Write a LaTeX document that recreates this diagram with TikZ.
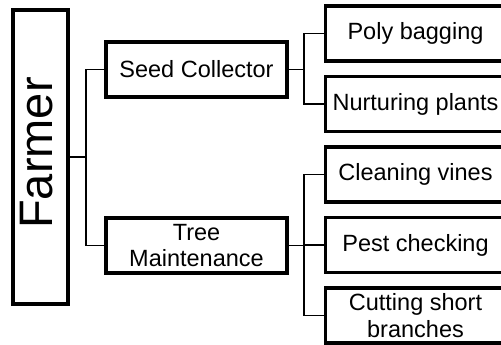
\documentclass[tikz,border=0pt]{standalone}
\usepackage{fontspec}
\setmainfont{Liberation Sans}
\begin{document}
\begin{tikzpicture}[x=1pt,y=-1pt,
  box/.style={draw, line width=3.1pt, inner sep=0pt, align=center,
    font=\fontsize{23.5}{26.5}\selectfont},
  rolebox/.style={box, minimum width=181pt, minimum height=55pt},
  taskbox/.style={box, minimum width=180pt, minimum height=55pt},
  link/.style={line width=1.9pt, line cap=rect}]
\useasboundingbox (0,0) rectangle (501,345);
\clip (0,0) rectangle (501,345);

% root
\node[box, minimum width=55pt, minimum height=294pt] (farmer) at (40.5,157)
  {\rotatebox{90}{\fontsize{47}{47}\selectfont\hspace{8pt}\rule[-8pt]{0pt}{8pt}Farmer}};

% roles
\node[rolebox] (seed) at (196.5,69.5) {Seed Collector};
\node[rolebox] (tree) at (196.5,245.5) {Tree\\Maintenance};

% tasks (boxes run past the right edge)
\node[taskbox] (poly)  at (415.5,33.5)  {Poly bagging};
\node[taskbox] (nurt)  at (415.5,104)   {Nurturing plants};
\node[taskbox] (clean) at (415.5,174.5) {Cleaning vines};
\node[taskbox] (pest)  at (415.5,245)   {Pest checking};
\node[taskbox] (cut)   at (415.5,315.5) {Cutting short\\branches};

% junctions
\coordinate (j0) at (86,157);
\coordinate (j1) at (304,69.5);
\coordinate (j2) at (304,245.5);

\draw[link] (farmer.east) -- (j0);
\draw[link] (seed.west) -| (j0);
\draw[link] (tree.west) -| (j0);

\draw[link] (seed.east) -- (j1);
\draw[link] (poly.west) -| (j1);
\draw[link] (nurt.west) -| (j1);

\draw[link] (tree.east) -- (j2);
\draw[link] (clean.west) -| (j2);
\draw[link] (pest.west) -| (j2);
\draw[link] (cut.west) -| (j2);
\end{tikzpicture}
\end{document}
